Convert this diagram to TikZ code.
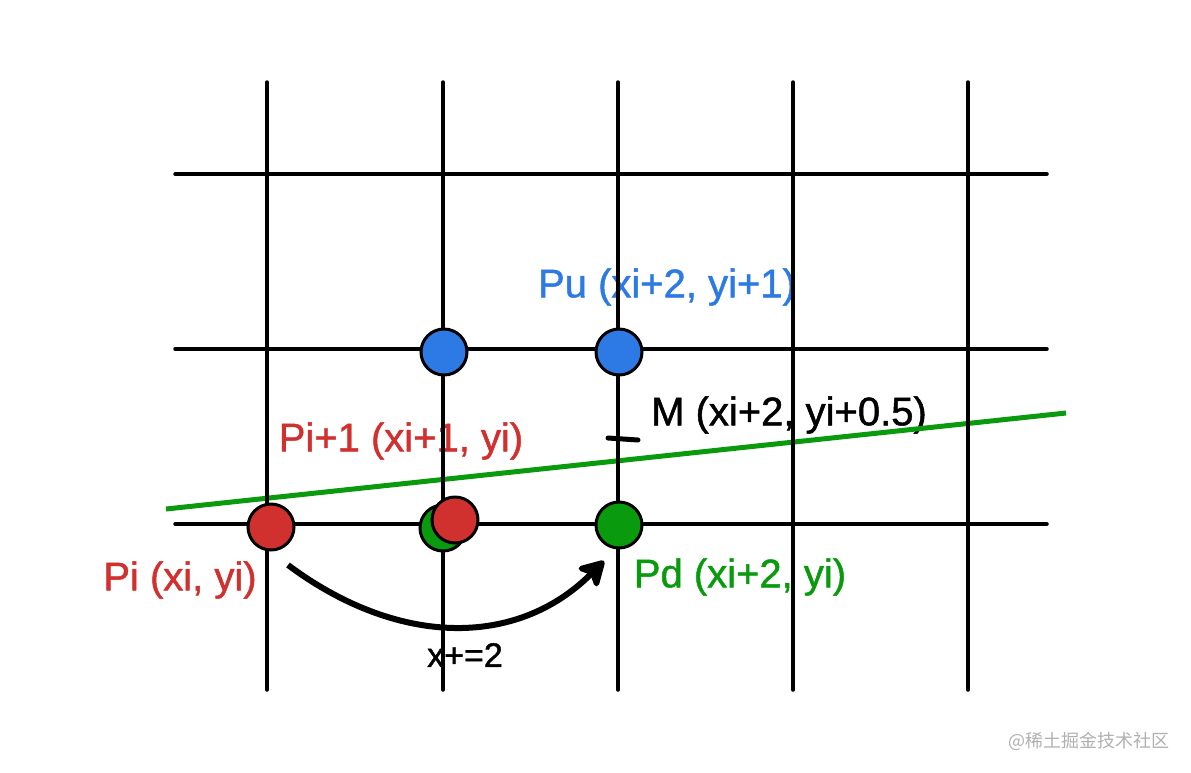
\documentclass[tikz,border=0pt]{standalone}
\usepackage{fontspec}
\setmainfont{Liberation Sans}
\newfontfamily\lblfont{Liberation Sans}[FakeBold=1.2]
\newfontfamily\cjkfont{Noto Sans CJK SC}
\usetikzlibrary{arrows.meta, positioning}

\definecolor{ptred}{RGB}{208,48,46}
\definecolor{ptblue}{RGB}{46,122,228}
\definecolor{ptgreen}{RGB}{10,154,14}
\definecolor{markgray}{RGB}{176,176,176}

\begin{document}
\begin{tikzpicture}[
    x=1pt, y=-1pt,
    gridline/.style={draw, line width=3.5pt, line cap=round},
    dot/.style={circle, draw, line width=3pt, minimum size=46pt, inner sep=0pt},
    lbl/.style={font=\lblfont\fontsize{40}{44}\selectfont, inner sep=0pt},
    arrow/.style={draw, line width=6pt, -{Stealth[length=30pt, width=34pt, inset=8pt, round]}}
]
    \useasboundingbox (0,0) rectangle (1191,772);

    % Labels
    \node[lbl, text=ptblue] (pulbl) at (667,287) {Pu (xi+2, yi+1)};
    \node[lbl, text=ptred] (pi1lbl) at (401,441) {Pi+1 (xi+1, yi)};
    \node[lbl, text=ptred] (pilbl) at (180,580) {Pi (xi, yi)};
    \node[lbl, text=ptgreen] (pdlbl) at (740,577) {Pd (xi+2, yi)};
    \node[lbl, anchor=west] (mlbl) at (651,415) {M (xi+2, yi+0.5)};
    \node[lbl, font=\lblfont\fontsize{34}{38}\selectfont] (steplbl) at (465,655) {x+=2};

    % Line
    \coordinate (ls) at (166,509);
    \coordinate (le) at (1066,413);
    \draw[ptgreen, line width=5pt] (ls) -- (le);

    % Grid
    \foreach \x in {267,443,618,793,968}
        \draw[gridline] (\x,82) -- (\x,690);
    \foreach \y in {174,349,524}
        \draw[gridline] (175,\y) -- (1047,\y);

    % Midpoint M
    \coordinate (ma) at (608,438);
    \coordinate (mb) at (638,440);
    \draw[line width=5pt, line cap=round] (ma) -- (mb);

    % Points
    \node[dot, fill=ptblue] (pl) at (444,352) {};
    \node[dot, fill=ptblue] (pu) at (619,352) {};
    \node[dot, fill=ptred] (pi) at (271,527) {};
    \node[dot, fill=ptgreen] (pg) at (443,528) {};
    \node[dot, fill=ptred] (pi1) at (455,520) {};
    \node[dot, fill=ptgreen] (pd) at (619,525) {};

    % Step
    \coordinate (as) at (288,565);
    \coordinate (ae) at (604,561);
    \draw[arrow] (as) .. controls (395,645) and (515,650) .. (ae);

    % Watermark
    \node[font=\cjkfont\fontsize{18}{20}\selectfont, text=markgray, anchor=east, inner sep=0pt] (wm) at (1170,741) {@稀土掘金技术社区};
\end{tikzpicture}
\end{document}
